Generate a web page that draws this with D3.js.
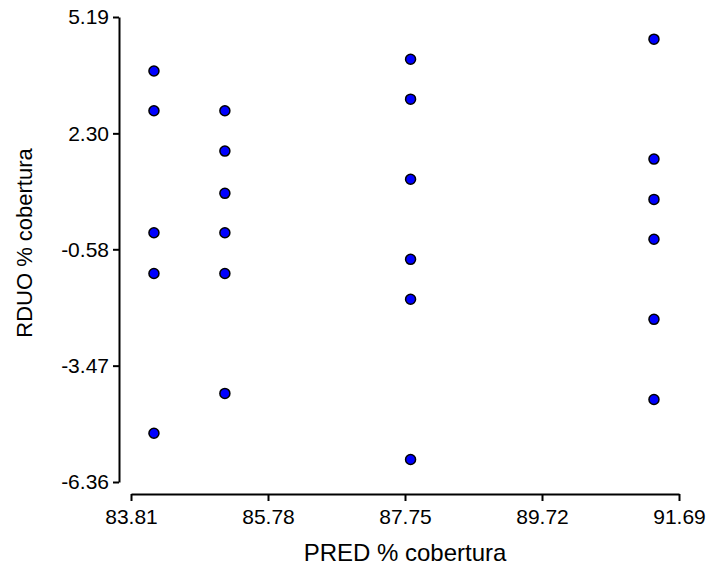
<!DOCTYPE html>
<html>
<head>
<meta charset="utf-8">
<script src="https://cdn.jsdelivr.net/npm/d3@7"></script>
<style>
  body { margin: 0; background: #fff; }
  text { font-family: "Liberation Sans", Arial, sans-serif; fill: #000; }
</style>
</head>
<body>
<svg id="chart" width="714" height="571"></svg>
<script>
// values
var predX = [84.14, 84.14, 84.14, 84.14, 84.14,
             85.16, 85.16, 85.16, 85.16, 85.16, 85.16,
             87.83, 87.83, 87.83, 87.83, 87.83, 87.83,
             91.33, 91.33, 91.33, 91.33, 91.33, 91.33];
var rduoY = [3.85, 2.86, -0.17, -1.18, -5.15,
             2.86, 1.86, 0.81, -0.17, -1.18, -4.16,
             4.14, 3.15, 1.16, -0.83, -1.82, -5.80,
             4.64, 1.66, 0.66, -0.33, -2.32, -4.31];
var xTicks = [83.81, 85.78, 87.75, 89.72, 91.69];
var yTicks = [-6.36, -3.47, -0.58, 2.30, 5.19];
var xTitle = "PRED % cobertura";
var yTitle = "RDUO % cobertura";

var svg = d3.select("#chart");

var x = d3.scaleLinear().domain([83.81, 91.69]).range([131, 679]);
var y = d3.scaleLinear().domain([-6.36, 5.19]).range([482, 17]);

// plain hyphen for negatives, like the original
var fmt = function(d) { return d.toFixed(2); };

// x axis, sits a bit below the y axis bottom
var gx = svg.append("g")
    .attr("transform", "translate(0,494)")
    .call(d3.axisBottom(x)
        .tickValues(xTicks)
        .tickFormat(fmt)
        .tickSize(7)
        .tickSizeOuter(0)
        .tickPadding(8));

// y axis, offset left of the x axis start
var gy = svg.append("g")
    .attr("transform", "translate(119,0)")
    .call(d3.axisLeft(y)
        .tickValues(yTicks)
        .tickFormat(fmt)
        .tickSize(6)
        .tickSizeOuter(0)
        .tickPadding(4));

[gx, gy].forEach(function(g) {
    g.attr("font-size", null).attr("font-family", null);
    g.selectAll("path, line")
        .attr("stroke", "#000")
        .attr("stroke-width", 2);
    g.selectAll("text")
        .style("font-size", "21px")
        .attr("fill", "#000");
});

// axis titles
svg.append("text")
    .attr("x", 405)
    .attr("y", 561)
    .attr("text-anchor", "middle")
    .style("font-size", "24px")
    .text(xTitle);

svg.append("text")
    .attr("transform", "translate(32,243) rotate(-90)")
    .attr("text-anchor", "middle")
    .style("font-size", "22px")
    .text(yTitle);

// points
svg.append("g")
    .selectAll("circle")
    .data(predX)
    .enter()
    .append("circle")
    .attr("cx", function(d) { return x(d); })
    .attr("cy", function(d, i) { return y(rduoY[i]); })
    .attr("r", 5)
    .attr("fill", "#0000ff")
    .attr("stroke", "#000")
    .attr("stroke-width", 1.5);
</script>
</body>
</html>
